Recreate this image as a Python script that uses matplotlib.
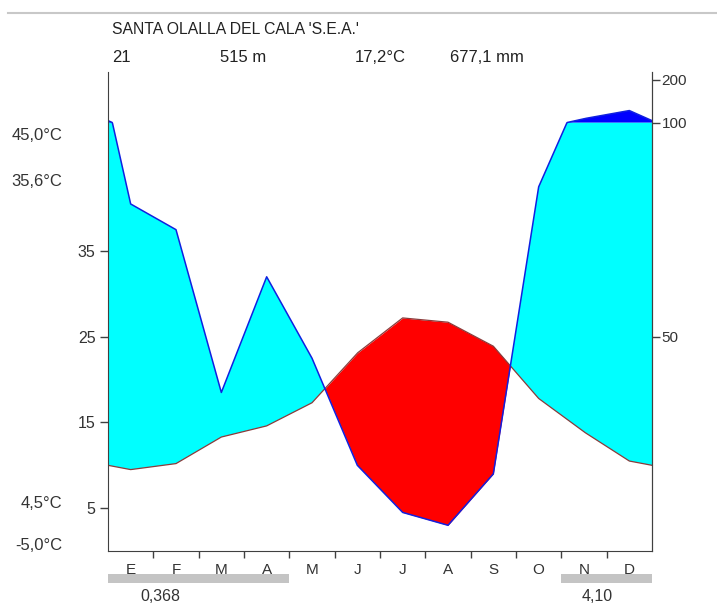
import numpy as np
import matplotlib.pyplot as plt
from matplotlib.lines import Line2D
from matplotlib.patches import Rectangle

plt.rcParams['font.family'] = ['Liberation Sans', 'DejaVu Sans']

# monthly data
months = ['E', 'F', 'M', 'A', 'M', 'J', 'J', 'A', 'S', 'O', 'N', 'D']
temp = [9.5, 10.2, 13.3, 14.6, 17.3, 23.1, 27.2, 26.7, 23.9, 17.8, 13.9, 10.5]   # ºC
prec = [81, 75, 37, 64, 45, 20, 9, 6, 18, 85, 109, 128]                           # mm
frost = [1, 1, 1, 1, 0, 0, 0, 0, 0, 0, 1, 1]

station = "SANTA OLALLA DEL CALA 'S.E.A.'"
header = ['21', '515 m', '17,2°C', '677,1 mm']
side_labels = ['45,0°C', '35,6°C', '4,5°C', '-5,0°C']
frost_labels = ['0,368', '4,10']
temp_ticks = [5, 15, 25, 35]
prec_ticks = [50, 100, 200]

W, H = 717, 606
fig = plt.figure(figsize=(W / 100, H / 100), dpi=100)


def fx(px):
    return px / W


def fy(py):
    return 1 - py / H


def prec_scale(p):
    # 2 mm per ºC up to 100 mm, compressed 1/10 above
    p = np.asarray(p, dtype=float)
    return np.where(p > 100, 100 + (p - 100) / 10, p) / 2


ax = fig.add_axes([fx(108), fy(551), fx(652) - fx(108), fy(72) - fy(551)])

# curves run from edge to edge, ends = mean of Dec and Jan
xm = np.arange(12) + 0.5
xe = np.concatenate([[0], xm, [12]])
te = np.concatenate([[(temp[0] + temp[-1]) / 2], temp, [(temp[0] + temp[-1]) / 2]])
pe = np.concatenate([[(prec[0] + prec[-1]) / 2], prec, [(prec[0] + prec[-1]) / 2]])

xf = np.linspace(0, 12, 1201)
tf = np.interp(xf, xe, te)
pf = prec_scale(np.interp(xf, xe, pe))

ax.fill_between(xf, tf, np.minimum(pf, 50), where=pf >= tf, interpolate=True,
                color='#00ffff', lw=0)
ax.fill_between(xf, pf, tf, where=tf > pf, interpolate=True, color='#ff0000', lw=0)
ax.fill_between(xf, 50, pf, where=pf > 50, interpolate=True, color='#0000ff', lw=0)
ax.plot(xf, tf, color='#8b3a3a', lw=0.9)
ax.plot(xf, pf, color='#1020e0', lw=1.1)

ax.set_xlim(0, 12)
ax.set_ylim(0, 55.9)
for s in ['left', 'right', 'bottom']:
    ax.spines[s].set_color('#404040')
ax.spines['top'].set_visible(False)

ax.set_yticks(temp_ticks)
ax.set_yticklabels([str(t) for t in temp_ticks])
ax.tick_params(axis='y', length=6, width=1, color='#404040', labelsize=11.5,
               labelcolor='#333333', pad=3)

ax.set_xticks(xm)
ax.set_xticklabels(months)
ax.set_xticks(np.arange(1, 12), minor=True)
ax.tick_params(axis='x', which='major', length=0, labelsize=11,
               labelcolor='#333333', pad=9)
ax.tick_params(axis='x', which='minor', length=5, width=1, color='#404040')

ax2 = ax.twinx()
ax2.set_ylim(ax.get_ylim())
ax2.set_yticks(prec_scale(prec_ticks))
ax2.set_yticklabels([str(p) for p in prec_ticks])
ax2.tick_params(axis='y', length=6, width=1, color='#404040', labelsize=11,
                labelcolor='#333333', pad=1)
for s in ['left', 'top', 'bottom']:
    ax2.spines[s].set_visible(False)
ax2.spines['right'].set_color('#404040')

# frost bars
tr = ax.get_xaxis_transform()
i = 0
while i < 12:
    if frost[i]:
        j = i
        while j < 12 and frost[j]:
            j += 1
        ax.add_patch(Rectangle((i, -0.067), j - i, 0.019, transform=tr,
                               color='#c4c4c4', clip_on=False, lw=0))
        i = j
    else:
        i += 1
ax.text(1.15, -0.096, frost_labels[0], transform=tr, ha='center', va='center',
        fontsize=11.5, color='#333333')
ax.text(10.8, -0.096, frost_labels[1], transform=tr, ha='center', va='center',
        fontsize=11.5, color='#333333')

# header
fig.add_artist(Line2D([fx(8), 1], [fy(13), fy(13)], color='#c8c8c8', lw=1.5))
fig.text(fx(112), fy(30), station, fontsize=11.3, color='#222222', va='center')
for xp, s in zip([112, 220, 355, 450], header):
    fig.text(fx(xp), fy(57), s, fontsize=12, color='#222222', va='center')

# side labels
for yp, s in zip([135, 182, 503, 546], side_labels):
    fig.text(fx(62), fy(yp), s, fontsize=12, color='#333333', ha='right', va='center')

fig.savefig('out.png', dpi=100)
